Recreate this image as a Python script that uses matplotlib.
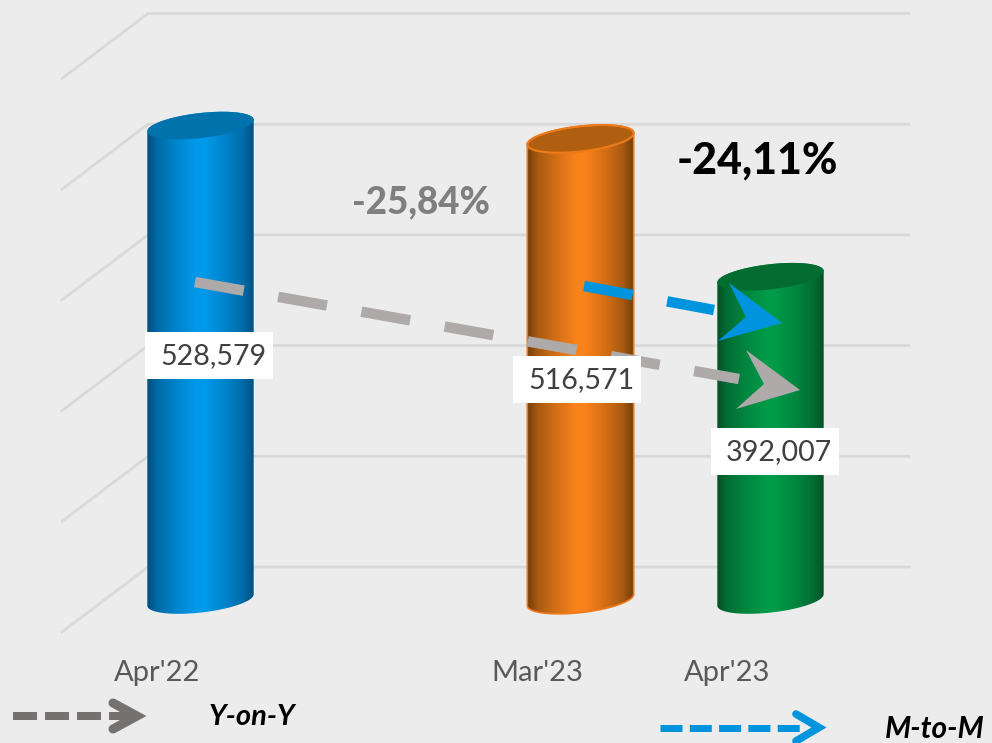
import numpy as np
import matplotlib
matplotlib.use("Agg")
import matplotlib.pyplot as plt
from matplotlib.colors import LinearSegmentedColormap, to_rgb
from matplotlib.patches import PathPatch, Polygon, Rectangle
from matplotlib.path import Path

plt.rcParams["font.family"] = ["Lato", "DejaVu Sans"]

# data
categories = ["Apr'22", "", "Mar'23", "Apr'23"]
slots = [0, 2, 3]
bar_names = ["Apr'22", "Mar'23", "Apr'23"]
values = [528579, 516571, 392007]
grid_values = [100000, 200000, 300000, 400000, 500000, 600000]
yoy_text = "-25,84%"
mtm_text = "-24,11%"
legend_names = ["Y-on-Y", "M-to-M"]

# bar colours: edge, bright middle, cap
bar_dark = ["#00507f", "#74400a", "#035227"]
bar_bright = ["#0099ea", "#fa821b", "#009b49"]
bar_cap = ["#0073ad", "#b05f10", "#036c31"]

BG = "#ececec"
GRID = "#d9d9d9"
W, H = 992, 743

# scale of the chart: one slot = 190 px, 100000 = 110.7 px
px_x = 1 / 190
px_y = 100000 / 110.7
zero_x_px = 200.5
floor_px = 567

fig = plt.figure(figsize=(W / 100, H / 100), dpi=100, facecolor=BG)
ax = fig.add_axes([0, 0, 1, 1])
ax.set_axis_off()
xlim = (-zero_x_px * px_x, (W - zero_x_px) * px_x)
ylim = (100000 - (H - floor_px) * px_y, 100000 + floor_px * px_y)

# back wall and left side gridlines
for g in grid_values:
    ax.plot([-138.5 * px_x, -52.5 * px_x, 708.5 * px_x],
            [g - 65 * px_y, g, g], color=GRID, lw=2, zorder=1,
            solid_joinstyle="round")


def ellipse_arc(cx, cy, t):
    # tilted ellipse of the cylinder ends, offsets worked out in px
    a, b, th = 53.5, 12.5, np.radians(6.5)
    ex = a * np.cos(t) * np.cos(th) - b * np.sin(t) * np.sin(th)
    ey = a * np.cos(t) * np.sin(th) + b * np.sin(t) * np.cos(th)
    return np.column_stack([cx + ex * px_x, cy + ey * px_y])


def blend(c1, c2, f):
    return tuple((1 - f) * a + f * b for a, b in zip(to_rgb(c1), to_rgb(c2)))


t0 = np.arctan2(-12.5 * np.sin(np.radians(6.5)), 53.5 * np.cos(np.radians(6.5)))
for i, (slot, val) in enumerate(zip(slots, values)):
    base = 100000 - 33 * px_y
    top = base + (val - 100000)
    lower = ellipse_arc(slot, base, np.linspace(t0 + np.pi, t0 + 2 * np.pi, 60))
    upper = ellipse_arc(slot, top, np.linspace(t0, t0 + np.pi, 60))
    outline = np.vstack([lower, upper, lower[:1]])
    body = PathPatch(Path(outline), facecolor="none", edgecolor="none", zorder=2)
    ax.add_patch(body)
    stops = [(0, 0), (0.03, 0.1), (0.1, 0.38), (0.25, 0.68), (0.46, 1),
             (0.54, 1), (0.75, 0.68), (0.9, 0.38), (0.97, 0.1), (1, 0)]
    cmap = LinearSegmentedColormap.from_list(
        "c", [(p, blend(bar_dark[i], bar_bright[i], f)) for p, f in stops])
    xs = outline[:, 0]
    im = ax.imshow(np.linspace(0, 1, 256).reshape(1, -1), cmap=cmap, aspect="auto",
                   extent=[xs.min(), xs.max(), base - 20 * px_y, top + 20 * px_y],
                   interpolation="bilinear", zorder=2)
    im.set_clip_path(body)
    cap = ellipse_arc(slot, top, np.linspace(0, 2 * np.pi, 120))
    edge = "#ee7a1a" if i == 1 else "none"
    ax.add_patch(Polygon(cap, closed=True, facecolor=bar_cap[i], edgecolor=edge,
                         lw=1.5, zorder=3))
    if i == 1:
        ax.add_patch(PathPatch(Path(outline), facecolor="none", edgecolor=edge,
                               lw=1.2, zorder=3))

ax.set_xlim(xlim)
ax.set_ylim(ylim)

# overlay in px for labels and arrows
deco = fig.add_axes([0, 0, 1, 1])
deco.set_axis_off()
deco.patch.set_alpha(0)
deco.set_xlim(0, W)
deco.set_ylim(H, 0)

boxes = [(145, 332), (513, 356), (711, 428)]
for (bx, by), val in zip(boxes, values):
    deco.add_patch(Rectangle((bx, by), 128, 47, facecolor="white", edgecolor="none", zorder=6))
    deco.text(bx + 68, by + 24.5, f"{val:,}", color="#404040", fontsize=20.6,
              ha="center", va="center", zorder=7)

for slot, name in zip(slots, bar_names):
    deco.text(zero_x_px + slot / px_x - 43, 673, name, color="#595959", fontsize=21,
              ha="center", va="center")

deco.text(421, 202, yoy_text, color="#7f7f7f", fontsize=26.5, fontweight=900,
          ha="center", va="center")
deco.text(757, 161, mtm_text, color="black", fontsize=31, fontweight=900,
          ha="center", va="center")


def dashed(x, y, color, lw_px, on, off):
    # dash lengths given in px along the line
    deco.plot(x, y, color=color, lw=lw_px * 0.72, solid_capstyle="butt",
              dash_capstyle="butt", linestyle=(0, (on / lw_px, off / lw_px)), zorder=5)


# stealth arrows across the chart
dashed([195, 739], [282, 379], "#aeaaa9", 10.5, 49.5, 35)
deco.add_patch(Polygon([(800, 390), (736, 409), (764, 384), (746, 350)],
                       facecolor="#aeaaa9", edgecolor="none", zorder=5))
dashed([584, 714], [286, 310], "#0094de", 10.5, 49.5, 35)
deco.add_patch(Polygon([(782, 323), (718, 341), (746, 317), (729, 283)],
                       facecolor="#0094de", edgecolor="none", zorder=5))

# legend arrows
dashed([13, 135], [716, 716], "#767171", 8, 24, 8)
deco.plot([113, 137, 113], [703, 716, 729], color="#767171", lw=6.5,
          solid_capstyle="round", solid_joinstyle="miter", zorder=5)
dashed([660, 800], [727.5, 727.5], "#0094de", 7, 22, 7.3)
deco.plot([796, 819, 796], [714, 727.5, 741], color="#0094de", lw=5.5,
          solid_capstyle="round", solid_joinstyle="miter", zorder=5)
deco.text(251.5, 717, legend_names[0], color="black", fontsize=21, fontweight="bold",
          fontstyle="italic", ha="center", va="center")
deco.text(935, 729.5, legend_names[1], color="black", fontsize=21.5, fontweight="bold",
          fontstyle="italic", ha="center", va="center")

fig.savefig("out.png", dpi=100, facecolor=BG)
